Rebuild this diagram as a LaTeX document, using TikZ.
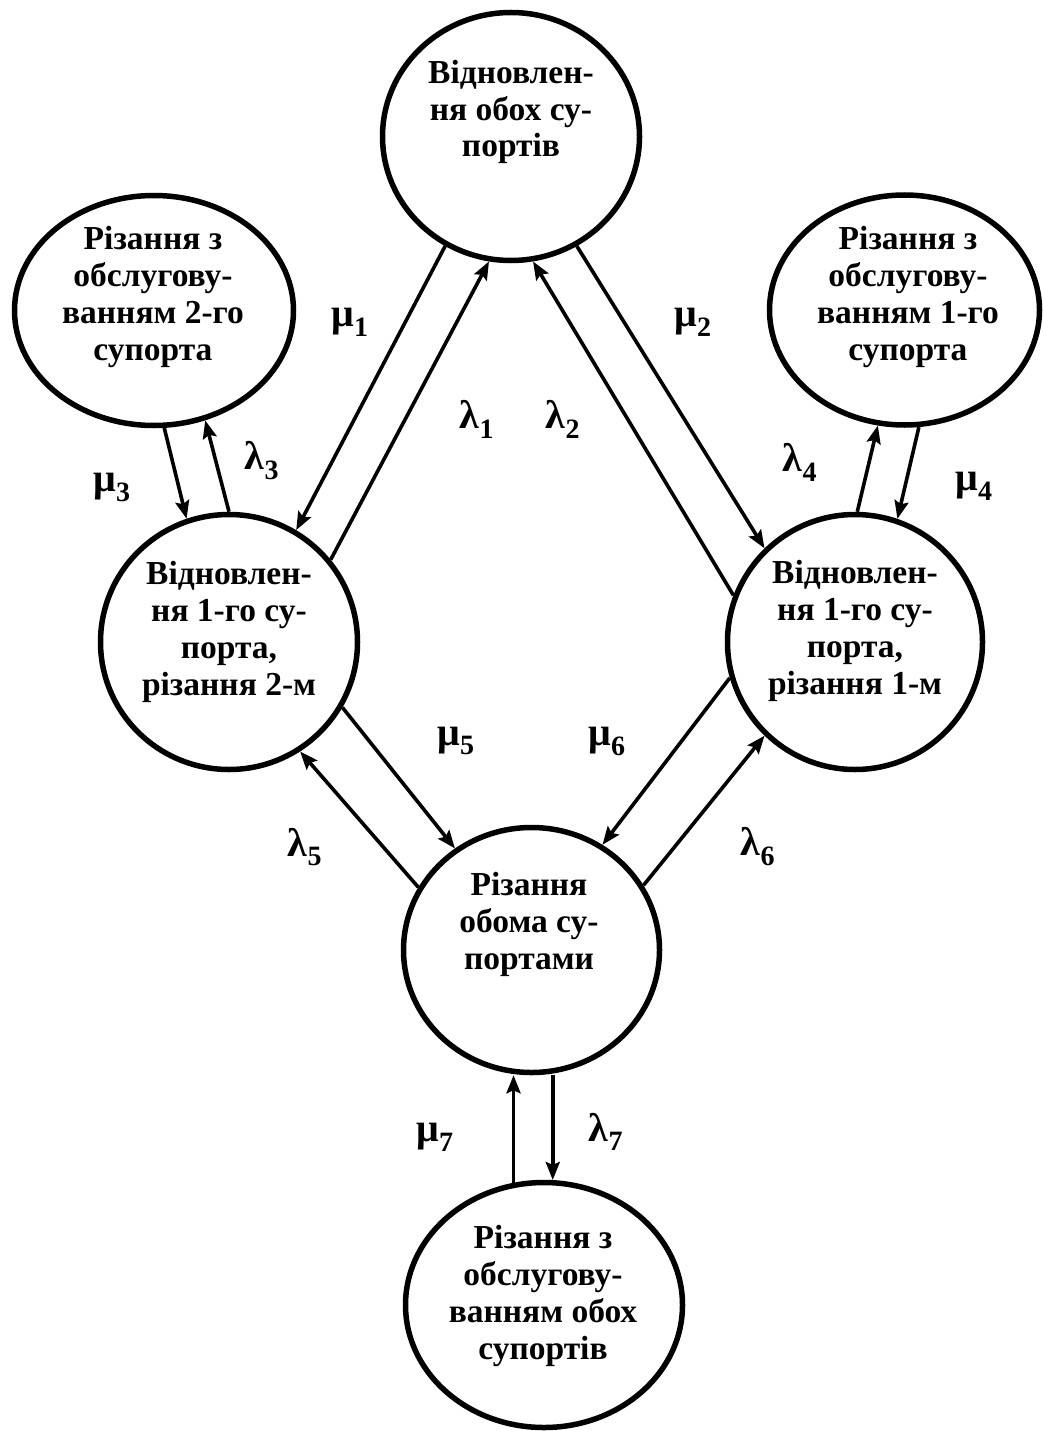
\documentclass[tikz,border=0pt]{standalone}
\usepackage{fontspec}
\setmainfont{Liberation Serif}
\usetikzlibrary{shapes.geometric,arrows.meta,calc}
\begin{document}
\begin{tikzpicture}[x=1pt,y=-1pt,
  state/.style={ellipse, draw, line width=5.5pt, inner sep=0pt},
  stxt/.style={anchor=base, align=center, inner sep=0pt,
    font=\fontsize{33.5}{36.7}\selectfont\bfseries},
  rate/.style={inner sep=0pt, font=\fontsize{40}{44}\selectfont\bfseries},
  arr/.style={line width=3.6pt, -{Stealth[length=18pt,width=14pt,inset=3pt]}}]
\fill[white] (0,0) rectangle (1043,1431);
\useasboundingbox (0,0) rectangle (1043,1431);

% states
\node[state, minimum width=257pt, minimum height=248pt] (both) at (511,136.5) {};
\node[state, minimum width=279pt, minimum height=230pt] (cut2) at (154,310.5) {};
\node[state, minimum width=270pt, minimum height=230pt] (cut1) at (904.5,310) {};
\node[state, minimum width=257pt, minimum height=255pt] (rep1a) at (229,642) {};
\node[state, minimum width=255pt, minimum height=255pt] (rep1b) at (855,642) {};
\node[state, minimum width=256pt, minimum height=245pt] (cutboth) at (531.5,950) {};
\node[state, minimum width=277pt, minimum height=245pt] (serv) at (544,1305) {};

% state captions (anchored at the baseline of the last line)
\node[stxt] (tboth) at (511,157) {Відновлен-\\ня обох су-\\портів};
\node[stxt] (tcut2) at (153,360) {Різання з\\обслугову-\\ванням 2-го\\супорта};
\node[stxt] (tcut1) at (908,360) {Різання з\\обслугову-\\ванням 1-го\\супорта};
\node[stxt] (trep1a) at (229,695) {Відновлен-\\ня 1-го су-\\порта,\\різання 2-м};
\node[stxt] (trep1b) at (855,694) {Відновлен-\\ня 1-го су-\\порта,\\різання 1-м};
\node[stxt] (tcutboth) at (529,969) {Різання\\обома су-\\портами};
\node[stxt] (tserv) at (543,1359) {Різання з\\обслугову-\\ванням обох\\супортів};

% transitions
\draw[arr] (both.239) -- (rep1a.59);
\draw[arr] (rep1a.39) -- (both.260);
\draw[arr] (rep1b.159) -- (both.280);
\draw[arr] (both.301) -- (rep1b.134);
\draw[arr] (cut2.275) -- (rep1a.109);
\draw[arr] (rep1a.90) -- (cut2.295);
\draw[arr] (rep1b.89) -- (cut1.257);
\draw[arr] (cut1.277) -- (rep1b.71);
\draw[arr] (rep1a.330) -- (cutboth.127);
\draw[arr] (cutboth.151) -- (rep1a.303);
\draw[arr] (rep1b.196) -- (cutboth.56);
\draw[arr] (cutboth.30) -- (rep1b.226);
\draw[arr] (serv.104) -- (serv.104 |- cutboth.south);
\draw[arr] (cutboth.south -| serv.86) -- (serv.86);

% rates
\node[rate] (m1) at (350,322) {μ\textsubscript{1}};
\node[rate] (l1) at (477,419) {λ\textsubscript{1}};
\node[rate] (l2) at (563,419) {λ\textsubscript{2}};
\node[rate] (m2) at (693,322) {μ\textsubscript{2}};
\node[rate] (m3) at (112,487) {μ\textsubscript{3}};
\node[rate] (l3) at (262,461) {λ\textsubscript{3}};
\node[rate] (l4) at (800,462) {λ\textsubscript{4}};
\node[rate] (m4) at (974,486) {μ\textsubscript{4}};
\node[rate] (m5) at (456,741) {μ\textsubscript{5}};
\node[rate] (m6) at (607,741) {μ\textsubscript{6}};
\node[rate] (l5) at (305,847) {λ\textsubscript{5}};
\node[rate] (l6) at (758,847) {λ\textsubscript{6}};
\node[rate] (m7) at (435,1137) {μ\textsubscript{7}};
\node[rate] (l7) at (606,1132) {λ\textsubscript{7}};
\end{tikzpicture}
\end{document}
